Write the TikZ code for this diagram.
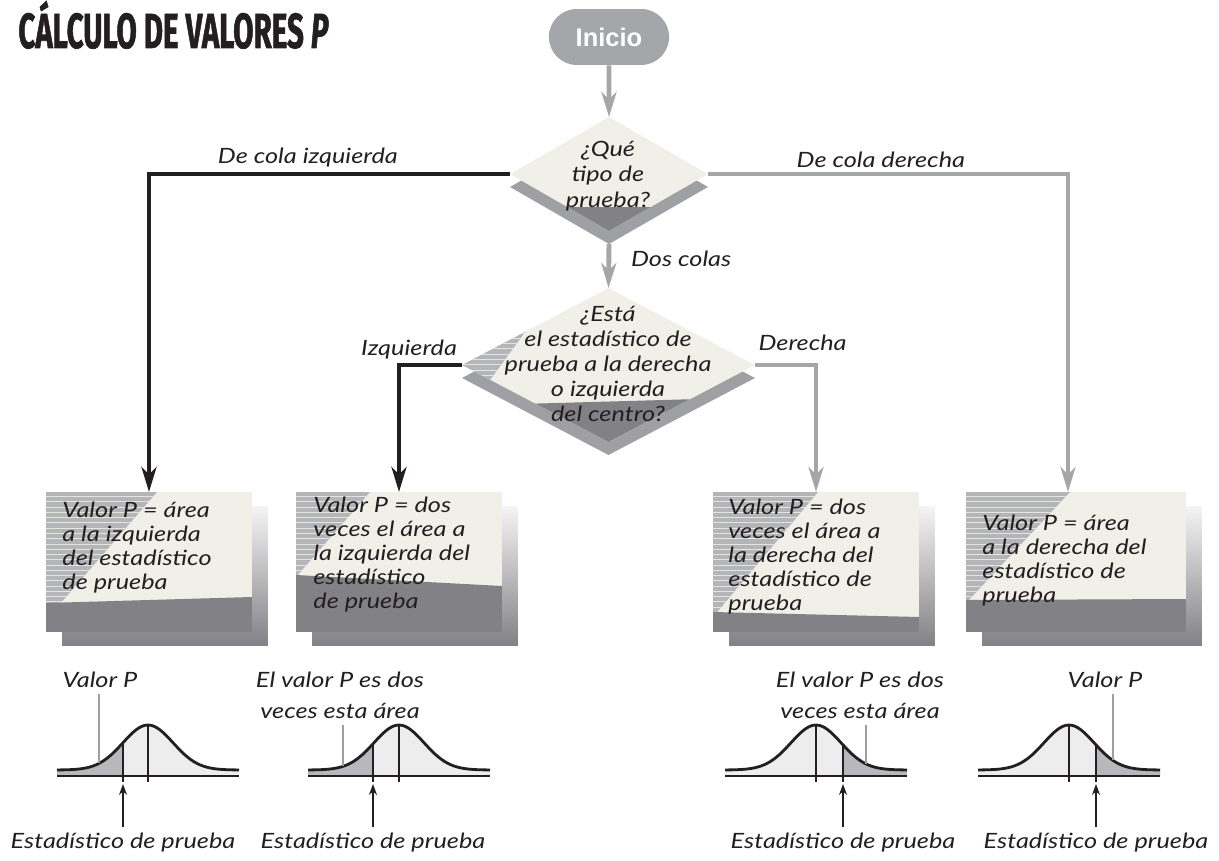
\documentclass[tikz,border=0pt]{standalone}
\usepackage{fontspec}
\usepackage{graphicx}
\setmainfont{Lato}
\newfontfamily\handfont{Lato}[FakeStretch=1.2]
\newfontfamily\headfont{Fira Sans}[FakeBold=1.6]
\newfontfamily\pillfont{Liberation Sans}
\usetikzlibrary{arrows.meta,positioning,calc,shapes.geometric,shapes.misc,shadows,patterns}

\definecolor{ink}{HTML}{231F20}
\definecolor{cream}{HTML}{F1F0E8}
\definecolor{flowgray}{HTML}{A5A6AA}
\definecolor{facegray}{HTML}{818186}
\definecolor{shadowgray}{HTML}{9FA0A4}
\definecolor{stripegray}{HTML}{B4B5B9}
\definecolor{tailgray}{HTML}{B7B8BC}
\definecolor{bodygray}{HTML}{EDEDED}

\tikzset{
  handtext/.style={
    font=\handfont\itshape\fontsize{12}{13.6}\selectfont,
    text=ink
  },
  startbox/.style={
    rounded rectangle,
    fill=flowgray,
    text=white,
    minimum width=2.64cm,
    minimum height=1.12cm,
    font=\pillfont\bfseries\fontsize{14.5}{16}\selectfont
  },
  decision/.style={
    diamond,
    fill=cream,
    inner sep=0pt,
    outer sep=0pt,
    general shadow={shadow yshift=-0.26cm, fill=shadowgray}
  },
  result/.style={
    rectangle,
    fill=cream,
    inner sep=0pt,
    outer sep=0pt,
    minimum width=4.12cm,
    minimum height=2.8cm,
    general shadow={shadow xshift=0.32cm, shadow yshift=-0.28cm,
      top color=gray!8, bottom color=facegray}
  },
  stripes/.style={
    fill=stripegray,
    postaction={pattern=horizontal lines, pattern color=cream!80!stripegray}
  },
  blackflow/.style={
    draw=ink,
    line width=2.8pt,
    -{Stealth[length=5mm,width=3mm,inset=1.5mm]}
  },
  grayflow/.style={blackflow, draw=flowgray},
  bell/.style={draw=ink, line width=1.6pt},
  leader/.style={draw=gray!75, line width=0.7pt},
  statarrow/.style={
    draw=ink,
    line width=0.6pt,
    -{Stealth[length=2.2mm,width=1.6mm]}
  }
}

\begin{document}
\begin{tikzpicture}[x=0.02cm, y=-0.02cm]
\useasboundingbox (0,0) rectangle (1219,861);

% title and start
\node[anchor=base west, inner sep=0pt, text=ink,
  font=\headfont\bfseries\fontsize{28}{30}\selectfont] (title) at (18,48)
  {\scalebox{0.6}[1]{CÁLCULO DE VALORES \textit{P}}};
\node[startbox] (inicio) at (609,37) {Inicio};

% first decision
\node[decision, minimum width=3.96cm, minimum height=2.28cm] (tipo) at (609,174) {};
\begin{scope}
  \clip (tipo.north) -- (tipo.east) -- (tipo.south) -- (tipo.west) -- cycle;
  \fill[facegray] (500,207) rectangle (720,240);
\end{scope}
\node[handtext, align=center, font=\handfont\itshape\fontsize{12}{14.7}\selectfont]
  (tipotext) at (608,176) {¿Qué\\tipo de\\prueba?};

% second decision
\node[decision, minimum width=5.86cm, minimum height=3.08cm] (centro) at (608.5,365) {};
\begin{scope}
  \clip (centro.north) -- (centro.east) -- (centro.south) -- (centro.west) -- cycle;
  \fill[stripes] (450,365) -- (528,328) -- (490,380) -- cycle;
  \fill[facegray] (450,406) -- (770,397) -- (770,460) -- (450,460) -- cycle;
\end{scope}
\node[handtext, align=center, font=\handfont\itshape\fontsize{12}{14.2}\selectfont]
  (centrotext) at (608,364)
  {¿Está\\el estadístico de\\prueba a la derecha\\o izquierda\\del centro?};

% result boxes
\node[result] (colaizq) at (149,562) {};
\begin{scope}
  \clip (colaizq.north west) rectangle (colaizq.south east);
  \fill[stripes] (46,492) -- (157,492) -- (46,620) -- cycle;
  \fill[facegray] (46,603) -- (252,597) |- (46,632) -- cycle;
\end{scope}
\node[handtext, align=left, anchor=north west, inner sep=0pt]
  (colaizqtext) at ($(colaizq.north west)+(16,10)$)
  {Valor P = área\\a la izquierda\\del estadístico\\de prueba};

\node[result] (dosizq) at (399,562) {};
\begin{scope}
  \clip (dosizq.north west) rectangle (dosizq.south east);
  \fill[stripes] (296,492) -- (370,492) -- (296,577) -- cycle;
  \fill[facegray] (296,575) -- (502,586) |- (296,632) -- cycle;
\end{scope}
\node[handtext, align=left, anchor=north west, inner sep=0pt]
  (dosizqtext) at ($(dosizq.north west)+(17,5)$)
  {Valor P = dos\\veces el área a\\la izquierda del\\estadístico\\de prueba};

\node[result] (dosder) at (816,562) {};
\begin{scope}
  \clip (dosder.north west) rectangle (dosder.south east);
  \fill[stripes] (713,492) -- (818,492) -- (713,617) -- cycle;
  \fill[facegray] (713,612) -- (919,617) |- (713,632) -- cycle;
\end{scope}
\node[handtext, align=left, anchor=north west, inner sep=0pt]
  (dosdertext) at ($(dosder.north west)+(15,7)$)
  {Valor P = dos\\veces el área a\\la derecha del\\estadístico de\\prueba};

\node[result, minimum width=4.4cm] (colader) at (1076,562) {};
\begin{scope}
  \clip (colader.north west) rectangle (colader.south east);
  \fill[stripes] (966,492) -- (1070,492) -- (966,603) -- cycle;
  \fill[facegray] (966,600) -- (1186,599) |- (966,632) -- cycle;
\end{scope}
\node[handtext, align=left, anchor=north west, inner sep=0pt]
  (coladertext) at ($(colader.north west)+(16,23)$)
  {Valor P = área\\a la derecha del\\estadístico de\\prueba};

% connectors
\draw[grayflow] (inicio) -- (tipo.north);
\draw[blackflow] (tipo.west) -| node[handtext, pos=0.28, above=-1pt] {De cola izquierda} (colaizq.north);
\draw[grayflow] (tipo.east) -| node[handtext, pos=0.24, above=-1pt] {De cola derecha} ([xshift=-0.16cm]colader.north);
\draw[grayflow] ([yshift=-0.26cm]tipo.south) -- node[handtext, right=8pt, yshift=0.14cm] {Dos colas} (centro.north);
\draw[blackflow] (centro.west) -| node[handtext, pos=0.42, above=-1.5pt] {Izquierda} (dosizq.north);
\draw[grayflow] (centro.east) -| node[handtext, pos=0.39, above=3.6pt] {Derecha} (dosder.north);

% normal curves
\foreach \cx/\sx/\tx/\n [evaluate=\cx as \lo using \cx-91, evaluate=\cx as \hi using \cx+91]
  in {148/123/57/1, 399/373/308/2, 816/843/907/3, 1069/1096/1160/4} {
  \fill[bodygray] plot[domain=\lo:\hi, samples=61] (\x,{770-45*exp(-(\x-\cx)^2/1250)})
    -- (\hi,776) -- (\lo,776) -- cycle;
  \fill[tailgray] plot[domain=\tx:\sx, samples=31] (\x,{770-45*exp(-(\x-\cx)^2/1250)})
    -- (\sx,776) -- (\tx,776) -- cycle;
  \draw[line width=0.7pt, draw=ink] (\lo,776) -- (\hi,776);
  \draw[bell] plot[domain=\lo:\hi, samples=61] (\x,{770-45*exp(-(\x-\cx)^2/1250)});
  \draw[line width=0.8pt, draw=ink] (\cx,725) -- (\cx,782);
  \draw[line width=0.8pt, draw=ink] (\sx,{770-45*exp(-(\sx-\cx)^2/1250)}) -- (\sx,782);
  \node[handtext] (stat\n) at (\sx,843) {Estadístico de prueba};
  \coordinate (tick\n) at (\sx,784);
  \draw[statarrow] (stat\n) -- (tick\n);
}

% P-value labels
\node[handtext] (pval1) at (100,680) {Valor P};
\coordinate (tail1) at (99,{770-45*exp(-(99-148)^2/1250)});
\draw[leader] (pval1.south -| tail1) -- (tail1);

\node[handtext, align=center, font=\handfont\itshape\fontsize{12}{17.6}\selectfont]
  (pval2) at (340,695) {El valor P es dos\\veces esta área};
\coordinate (tail2) at (343,{770-45*exp(-(343-399)^2/1250)});
\draw[leader] (pval2.south -| tail2) -- (tail2);

\node[handtext, align=center, font=\handfont\itshape\fontsize{12}{17.6}\selectfont]
  (pval3) at (860,695) {El valor P es dos\\veces esta área};
\coordinate (tail3) at (866,{770-45*exp(-(866-816)^2/1250)});
\draw[leader] (pval3.south -| tail3) -- (tail3);

\node[handtext] (pval4) at (1105,680) {Valor P};
\coordinate (tail4) at (1113,{770-45*exp(-(1113-1069)^2/1250)});
\draw[leader] (pval4.south -| tail4) -- (tail4);

\end{tikzpicture}
\end{document}
